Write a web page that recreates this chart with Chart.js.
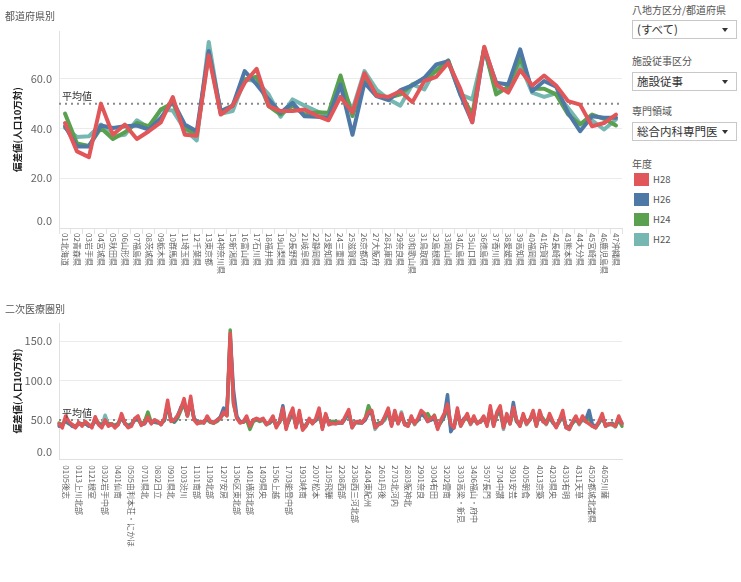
<!DOCTYPE html>
<html><head><meta charset="utf-8">
<script src="https://cdn.jsdelivr.net/npm/chart.js@4.4.1/dist/chart.umd.min.js"></script>
<style>
body{margin:0;background:#fff;font-family:"Noto Sans CJK JP","Noto Sans",sans-serif;}
#wrap{position:relative;width:741px;height:582px;overflow:hidden;background:#fff;}
canvas{position:absolute;left:0;}
.ttl{position:absolute;left:5px;font-size:10px;color:#555;z-index:2;}
.flbl{position:absolute;left:632px;font-size:10px;color:#555;}
.sel{position:absolute;left:632px;width:105px;height:19px;border:1px solid #c8c8c8;box-sizing:border-box;font-size:11.5px;color:#333;line-height:17px;padding-left:4px;}
.sel:after{content:"";position:absolute;right:8px;top:7px;border-left:3.5px solid transparent;border-right:3.5px solid transparent;border-top:4px solid #333;}
.sw{position:absolute;left:634px;width:15px;height:13px;}
.lt{position:absolute;left:653px;font-size:9.5px;color:#555;line-height:13px;}
</style></head>
<body>
<div id="wrap">
<canvas id="c1" width="625" height="282" style="top:0px"></canvas>
<canvas id="c2" width="625" height="282" style="top:300px"></canvas>
<div class="ttl" style="top:8px">都道府県別</div>
<div class="ttl" style="top:301px">二次医療圏別</div>

<div class="flbl" style="top:2px">八地方区分/都道府県</div>
<div class="sel" style="top:20px">(すべて)</div>
<div class="flbl" style="top:53px">施設従事区分</div>
<div class="sel" style="top:72px">施設従事</div>
<div class="flbl" style="top:103px">専門領域</div>
<div class="sel" style="top:122px">総合内科専門医</div>
<div class="flbl" style="top:156px">年度</div>
<div id="legend"></div>
</div>
<script>
// ---------- data ----------
const prefectures = ["01北海道","02青森県","03岩手県","04宮城県","05秋田県","06山形県","07福島県","08茨城県","09栃木県","10群馬県","11埼玉県","12千葉県","13東京都","14神奈川県","15新潟県","16富山県","17石川県","18福井県","19山梨県","20長野県","21岐阜県","22静岡県","23愛知県","24三重県","25滋賀県","26京都府","27大阪府","28兵庫県","29奈良県","30和歌山県","31鳥取県","32島根県","33岡山県","34広島県","35山口県","36徳島県","37香川県","38愛媛県","39高知県","40福岡県","41佐賀県","42長崎県","43熊本県","44大分県","45宮崎県","46鹿児島県","47沖縄県"];

const h28Pref = [42.2,30.8,28.5,50.0,37.5,41.6,35.8,38.9,42.5,52.6,37.5,37.1,69.4,45.6,49.2,58.4,64.0,49.0,47.0,47.0,47.6,45.2,43.3,52.7,46.5,62.2,53.3,52.7,55.0,50.6,59.1,60.8,66.5,56.0,42.5,72.9,57.7,54.4,63.5,57.3,61.3,57.3,51.0,49.6,40.9,42.2,45.6];
const h26Pref = [40.9,32.8,32.8,41.2,40.2,40.9,41.2,39.6,44.3,51.0,41.6,38.9,71.2,47.0,49.2,63.1,57.7,51.7,46.3,50.3,44.9,44.7,44.3,57.7,37.5,58.4,53.0,51.4,55.4,57.3,60.4,65.8,67.1,53.7,42.5,72.1,58.4,57.7,71.8,55.0,59.1,56.8,46.3,38.9,44.9,44.3,44.3];
const h24Pref = [46.0,34.0,33.0,40.2,35.8,38.5,42.2,40.9,47.6,50.3,40.2,37.5,70.5,46.3,49.2,59.7,60.8,49.0,45.6,49.2,45.6,46.5,46.3,61.3,45.0,60.0,53.7,52.3,53.7,57.7,60.0,63.1,67.4,54.4,45.6,72.5,53.7,56.8,68.5,56.0,56.0,53.7,45.6,41.6,45.6,43.9,41.2];
const h22Pref = [40.2,36.6,36.9,41.6,36.9,37.5,43.3,40.2,47.6,47.2,39.6,35.2,74.8,45.9,47.0,59.7,59.1,53.7,44.7,51.7,49.2,47.0,44.9,57.0,47.6,63.1,55.7,51.8,49.2,57.7,55.7,64.4,66.7,53.7,51.7,71.8,55.7,55.4,65.8,54.4,52.7,54.1,48.3,42.0,43.3,39.6,43.6];

// labelled secondary medical areas (every 4th plotted point)
const areaTickLabels = ["0105後志","0113上川北部","0121根室","0302岩手中部","0401仙南","0505由利本荘・にかほ","0701県北","0802日立","0901県北","1003渋川","1101南部","1109北部","1207安房","1306区東北部","1401横浜北部","1409県央","1506上越","1703能登中部","1903峡南","2007松本","2105飛騨","2208西部","2308西三河北部","2404東紀州","2601丹後","2703北河内","2803阪神北","2901奈良","3004有田","3202雲南","3303高梁・新見","3406福山・府中","3507長門","3704中讃","3901安芸","4005朝倉","4013京築","4203県央","4303有明","4311天草","4502都城北諸県","4605川薩"];

const h28Area = [45,40,55,48,44,40,47,42,48,44, 40,54,44,40,50,42,45,40,44,58, 46,40,42,52,55,43,46,54,45,50,
 48,44,52,75,48,50,55,64,77,55, 80,50,45,48,46,55,48,46,50,52, 60,55,160,72,52,46,48,55,42,50,
 52,50,52,44,48,55,40,48,65,38, 55,65,40,62,37,42,52,45,52,65, 38,58,44,46,45,47,46,55,63,40,
 47,48,46,52,60,62,40,44,46,55, 65,42,62,45,58,44,42,55,45,52, 62,58,48,52,55,38,50,58,70,45,
 40,65,42,50,58,45,55,45,48,55, 42,68,42,60,68,40,58,45,66,50, 42,58,45,50,62,42,62,48,45,58,
 48,40,50,62,40,38,48,55,45,55, 48,45,42,40,48,58,42,45,44,42, 55,45];
const h26Area = [42,43,50,46,42,41,45,44,46,42, 42,50,45,42,48,44,44,42,45,54, 45,42,44,50,52,44,45,52,46,48,
 47,45,50,70,50,48,54,66,72,56, 74,52,46,47,47,52,48,47,49,54, 65,58,155,88,55,47,48,52,44,50,
 51,50,51,45,47,52,42,48,68,40, 52,62,42,58,40,43,50,46,50,62, 40,56,45,46,46,46,46,53,60,42,
 47,47,46,50,58,60,42,45,46,54, 62,44,58,46,56,45,43,52,46,50, 58,55,48,50,52,40,48,55,82,35,
 42,62,44,52,55,46,52,46,48,52, 44,64,44,58,64,42,55,46,72,48, 44,55,46,50,60,44,58,48,46,55,
 47,42,49,58,41,40,47,52,46,53, 50,62,44,42,47,55,43,45,45,43, 52,46];
const h24Area = [46,44,48,45,44,42,46,45,45,43, 43,48,46,44,47,45,45,43,46,52, 46,43,45,50,50,45,48,60,47,47,
 46,46,49,68,50,47,52,62,70,55, 72,52,47,46,48,50,47,46,48,52, 58,56,164,70,53,47,47,50,38,48,
 50,48,50,45,46,50,44,47,60,42, 50,60,43,56,41,44,49,47,49,58, 42,54,47,48,48,47,47,52,58,43,
 47,46,47,52,68,58,44,46,47,52, 60,45,56,46,54,46,44,50,47,49, 60,54,58,50,56,42,47,54,66,42,
 42,58,44,50,52,46,50,47,47,52, 45,60,45,56,60,42,54,46,62,48, 45,54,46,50,58,44,56,52,46,52,
 47,42,48,55,42,41,46,50,46,50, 48,54,42,40,46,52,44,44,46,42, 50,42];
const h22Area = [44,42,52,47,43,41,46,44,47,44, 42,52,46,43,56,44,45,42,45,54, 46,41,44,50,53,44,46,56,46,50,
 48,44,50,68,52,49,56,64,72,56, 76,52,46,48,46,52,47,46,50,53, 60,56,150,75,54,48,47,52,42,49,
 50,49,50,44,46,52,42,47,62,40, 52,58,42,56,38,42,50,46,50,60, 40,56,44,45,45,46,46,52,60,40,
 46,47,46,50,62,58,38,44,46,50, 60,43,60,46,60,44,42,52,44,50, 58,56,50,52,52,40,48,55,70,40,
 40,60,42,50,56,44,52,46,48,54, 44,62,42,58,62,38,56,45,64,48, 42,56,44,50,58,42,60,50,44,54,
 46,41,48,56,40,38,46,52,44,52, 48,56,43,40,46,54,42,44,44,41, 52,44];

const seriesNames = ["H28","H26","H24","H22"];
const seriesColors = ["#e15759","#4e79a7","#59a14f","#76b7b2"];
const prefTicks = [0,20,40,60];
const areaTicks = [0,50,100,150];
const averageValue = 50;

// ---------- helpers ----------
const F = '"Noto Sans CJK JP","Noto Sans",sans-serif';
const areaCategories = h28Area.map((_, i) => (i % 4 === 2 ? (areaTickLabels[(i - 2) / 4] || "") : ""));

function avgPlugin() {
  return {
    id: 'avgLine',
    beforeDatasetsDraw(chart) {
      const {ctx, chartArea} = chart;
      const y = chart.scales.y.getPixelForValue(averageValue);
      ctx.save();
      ctx.strokeStyle = '#8a8a8a';
      ctx.lineWidth = 2;
      ctx.setLineDash([2, 4]);
      ctx.beginPath();
      ctx.moveTo(chartArea.left, y);
      ctx.lineTo(chartArea.right, y);
      ctx.stroke();
      ctx.restore();
    },
    afterDatasetsDraw(chart) {
      const {ctx, chartArea} = chart;
      const ys = chart.scales.y;
      const y = ys.getPixelForValue(averageValue);
      ctx.save();
      ctx.font = '10px ' + F;
      ctx.fillStyle = '#333';
      ctx.textBaseline = 'bottom';
      ctx.textAlign = 'left';
      ctx.fillText('平均値', chartArea.left + 3, y - 2);
      // zero label sits just above the axis line, as in the source
      ctx.font = '11px ' + F;
      ctx.fillStyle = '#666';
      ctx.textAlign = 'right';
      ctx.textBaseline = 'bottom';
      ctx.fillText((0).toFixed(1), ys.right - 7, ys.getPixelForValue(0) - 2);
      ctx.restore();
    }
  };
}
function vertLabelPlugin(labels, gap) {
  return {
    id: 'vertLabels',
    afterDraw(chart) {
      const xs = chart.scales.x;
      const ctx = chart.ctx;
      ctx.save();
      ctx.font = '8px ' + F;
      ctx.fillStyle = '#666';
      ctx.textAlign = 'left';
      ctx.textBaseline = 'middle';
      labels.forEach((lab, i) => {
        if (!lab) return;
        const x = xs.getPixelForValue(i);
        ctx.save();
        ctx.translate(x, xs.top + gap);
        ctx.rotate(Math.PI / 2);
        ctx.fillText(lab, 0, 0);
        ctx.restore();
      });
      ctx.restore();
    }
  };
}
function makeChart(id, labels, seriesData, o) {
  const datasets = seriesData.map((d, k) => ({
    label: seriesNames[k], data: d, borderColor: seriesColors[k], backgroundColor: seriesColors[k],
    borderWidth: o.lw, pointRadius: 0, tension: 0, borderJoinStyle: 'round', borderCapStyle: 'round', fill: false
  }));
  return new Chart(document.getElementById(id), {
    type: 'line',
    data: {labels, datasets},
    options: {
      responsive: false, animation: false, events: [],
      layout: {padding: {top: o.padTop, right: 3, left: 0, bottom: 0}},
      plugins: {legend: {display: false}, tooltip: {enabled: false}},
      scales: {
        x: {
          type: 'category', offset: o.offset,
          ticks: {display: false},
          grid: {display: o.xGrid, offset: true, drawOnChartArea: false, tickLength: 6, color: '#e3e3e3'},
          border: {display: true, color: '#e0e0e0'},
          afterFit: s => { s.height = o.xH; }
        },
        y: {
          min: 0, max: o.ymax,
          afterBuildTicks: s => { s.ticks = o.yTicks.map(v => ({value: v})); },
          ticks: {callback: v => (Number(v) === 0 ? '' : Number(v).toFixed(1)), color: '#666', font: {size: 11, family: F}, padding: 7},
          grid: {color: '#ebebeb', drawTicks: false},
          border: {display: true, color: '#e0e0e0'},
          title: {display: true, text: '偏差値(人口10万対)', color: '#222', font: {size: 9.5, weight: 'bold', family: F}, padding: {top: 12, bottom: 0}},
          afterFit: s => { s.width = 59; }
        }
      }
    },
    plugins: [avgPlugin(), vertLabelPlugin(labels, o.gap)]
  });
}

makeChart('c1', prefectures, [h28Pref, h26Pref, h24Pref, h22Pref],
  {lw: 4, padTop: 31, offset: true, xGrid: true, xH: 54, ymax: 79.2, yTicks: prefTicks, gap: 5});
makeChart('c2', areaCategories, [h28Area, h26Area, h24Area, h22Area],
  {lw: 3.5, padTop: 23, offset: false, xGrid: false, xH: 122.7, ymax: 173, yTicks: areaTicks, gap: 6});

// legend
const lg = document.getElementById('legend');
seriesNames.forEach((n, k) => {
  const top = 173 + k * 20;
  lg.insertAdjacentHTML('beforeend',
    `<div class="sw" style="top:${top}px;background:${seriesColors[k]}"></div><div class="lt" style="top:${top}px">${n}</div>`);
});
</script>
</body></html>
